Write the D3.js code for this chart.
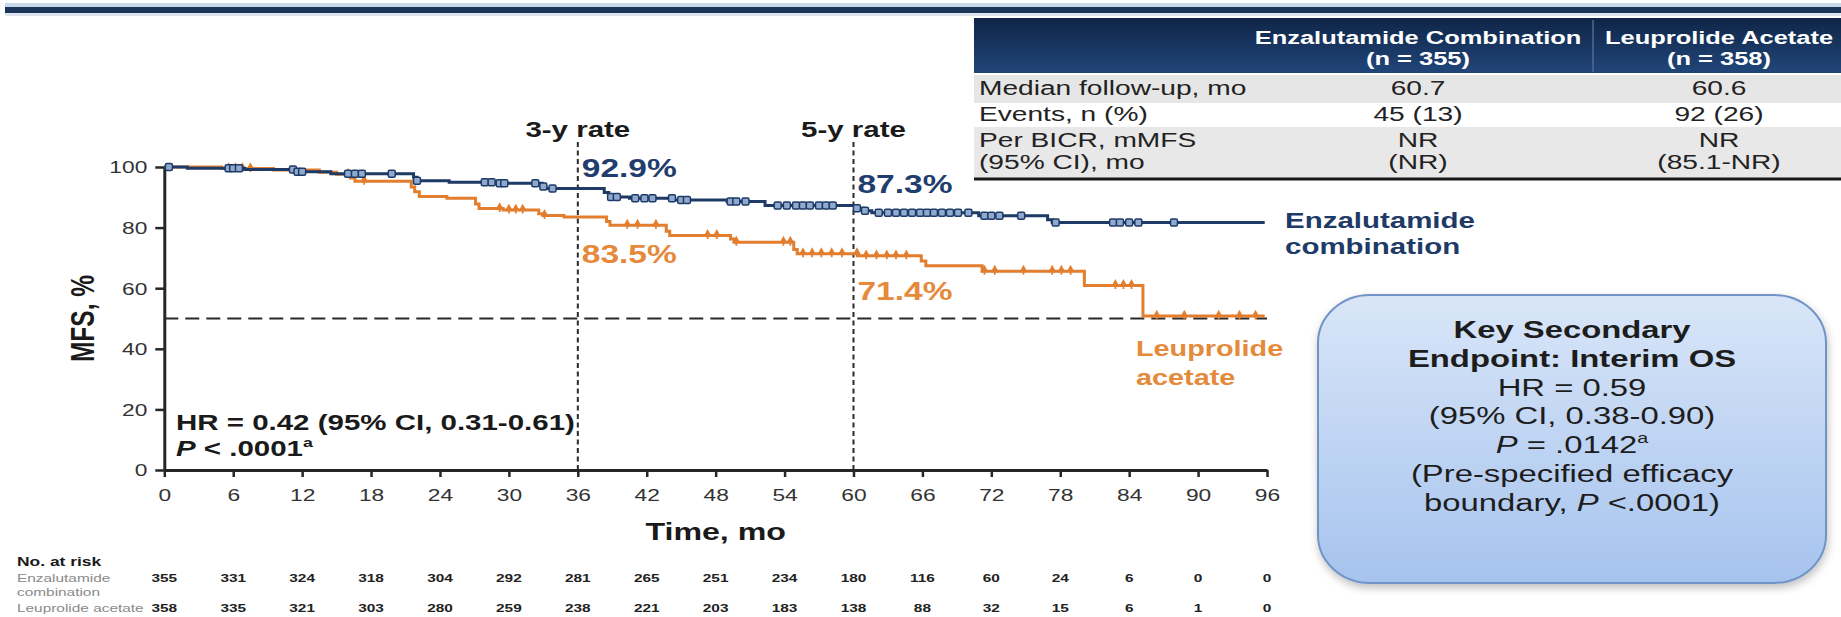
<!DOCTYPE html>
<html>
<head>
<meta charset="utf-8">
<script src="https://cdn.jsdelivr.net/npm/d3@7"></script>
<style>
  html, body { margin: 0; padding: 0; background: #ffffff; }
  svg { display: block; font-family: "Liberation Sans", Arial, Helvetica, sans-serif; }
</style>
</head>
<body>
<svg id="chart" width="1841" height="617"></svg>
<script>
// ---- data -------------------------------------------------------------
const timeTicks = [0, 6, 12, 18, 24, 30, 36, 42, 48, 54, 60, 66, 72, 78, 84, 90, 96];
const mfsTicks = [0, 20, 40, 60, 80, 100];

// Kaplan-Meier steps: [month, MFS % from that month on]
const enzSteps = [
  [0, 100], [2.0, 99.6], [7.0, 99.2], [11.5, 98.4], [14.5, 97.8], [21.7, 96.6],
  [22.0, 95.5], [24.8, 95.0], [28.8, 94.6], [32.9, 93.6], [33.2, 92.9], [38.3, 91.6],
  [38.7, 90.1], [40.5, 89.7], [44.3, 89.1], [49.0, 88.6], [52.3, 87.3], [60.2, 86.4],
  [60.8, 85.6], [61.6, 84.9], [70.9, 83.9], [76.9, 82.6], [77.3, 81.7], [95.8, 81.7]
];
const leuSteps = [
  [0, 100], [5.0, 99.5], [9.5, 99.0], [13.5, 98.3], [15.0, 97.6], [16.2, 96.4],
  [16.6, 95.3], [21.5, 93.4], [21.8, 91.8], [22.2, 90.3], [24.6, 89.7], [27.1, 87.8],
  [27.4, 86.3], [29.5, 85.8], [32.6, 84.6], [33.0, 84.0], [34.8, 83.5], [38.5, 82.0],
  [38.8, 80.8], [43.7, 78.8], [44.0, 77.4], [49.3, 76.2], [49.6, 75.2], [54.8, 72.8],
  [55.1, 71.4], [60.4, 70.7], [65.9, 69.0], [66.3, 67.4], [71.2, 65.6], [80.1, 60.9],
  [85.2, 50.8], [95.8, 50.8]
];

// censoring times (months)
const enzCensored = [0.4, 5.6, 6.0, 6.5, 11.2, 11.6, 12.0, 16.0, 16.6, 17.2, 19.8, 22.0,
  27.9, 28.5, 29.2, 29.6, 32.3, 33.0, 33.8, 38.9, 39.4, 41.0, 41.8, 42.5, 44.2, 45.0,
  45.5, 49.3, 49.8, 50.6, 53.4, 54.2, 55.0, 55.6, 56.2, 57.0, 57.6, 58.2, 60.3, 61.0,
  62.2, 63.0, 63.7, 64.4, 65.1, 65.8, 66.4, 67.0, 67.7, 68.4, 69.1, 70.0, 71.4, 72.0,
  72.7, 74.6, 77.6, 82.6, 83.2, 84.0, 84.8, 87.9];
const leuCensored = [5.6, 6.2, 6.8, 7.5, 16.0, 17.4, 29.2, 30.0, 30.6, 31.2, 33.1, 40.3,
  41.2, 42.8, 47.3, 48.1, 49.8, 53.9, 54.5, 55.6, 56.4, 57.2, 58.1, 59.0, 60.3, 61.1,
  62.0, 62.9, 63.7, 64.6, 71.4, 72.3, 74.8, 77.3, 78.1, 78.9, 82.8, 83.5, 84.2, 86.4,
  88.8, 91.8, 93.6, 95.0];

// landmark rates
const landmarkMonths = [36, 60];
const landmarkTitles = ["3-y rate", "5-y rate"];
const enzLandmark = [92.9, 87.3];
const leuLandmark = [83.5, 71.4];

// number at risk
const atRiskEnz = [355, 331, 324, 318, 304, 292, 281, 265, 251, 234, 180, 116, 60, 24, 6, 0, 0];
const atRiskLeu = [358, 335, 321, 303, 280, 259, 238, 221, 203, 183, 138, 88, 32, 15, 6, 1, 0];

// summary table
const tableHeads = [["Enzalutamide Combination", "(n = 355)"], ["Leuprolide Acetate", "(n = 358)"]];
const tableRowLabels = [["Median follow-up, mo"], ["Events, n (%)"], ["Per BICR, mMFS", "(95% CI), mo"]];
const tableEnz = [["60.7"], ["45 (13)"], ["NR", "(NR)"]];
const tableLeu = [["60.6"], ["92 (26)"], ["NR", "(85.1-NR)"]];

// ---- drawing ------------------------------------------------------------
const SX = 1.34; // horizontal text stretch of the slide
const NAVY = "#1e3a66", ORANGE = "#e27e2e", INK = "#1d1d1d";

const svg = d3.select("#chart");
const defs = svg.append("defs");

const hdrGrad = defs.append("linearGradient").attr("id", "hdrGrad").attr("x1", 0).attr("y1", 0).attr("x2", 0).attr("y2", 1);
hdrGrad.append("stop").attr("offset", "0%").attr("stop-color", "#0f2547");
hdrGrad.append("stop").attr("offset", "100%").attr("stop-color", "#21467a");

const boxGrad = defs.append("linearGradient").attr("id", "boxGrad").attr("x1", 0).attr("y1", 0).attr("x2", 0).attr("y2", 1);
boxGrad.append("stop").attr("offset", "0%").attr("stop-color", "#d9e6f8");
boxGrad.append("stop").attr("offset", "100%").attr("stop-color", "#a6c3ee");

const shadow = defs.append("filter").attr("id", "shadow").attr("x", "-10%").attr("y", "-10%").attr("width", "130%").attr("height", "130%");
shadow.append("feDropShadow").attr("dx", 1).attr("dy", 4).attr("stdDeviation", 4).attr("flood-color", "#000").attr("flood-opacity", 0.25);

function label(g, x, y, parts, o) {
  const t = g.append("text")
    .attr("transform", `translate(${x},${y}) scale(${SX},1)` + (o.rotate ? ` rotate(${o.rotate})` : ""))
    .attr("text-anchor", o.anchor || "start")
    .attr("font-size", o.size)
    .attr("font-weight", o.weight || "normal")
    .attr("fill", o.color || INK);
  (Array.isArray(parts) ? parts : [parts]).forEach(p => {
    if (typeof p === "string") { t.append("tspan").text(p); return; }
    const s = t.append("tspan").text(p.text);
    if (p.italic) s.attr("font-style", "italic");
    if (p.sup) s.attr("font-size", o.size * 0.6).attr("dy", -o.size * 0.42);
  });
  return t;
}

// top rule
svg.append("rect").attr("x", 5).attr("y", 3).attr("width", 1836).attr("height", 4).attr("fill", "#c7d8ea");
svg.append("rect").attr("x", 5).attr("y", 7).attr("width", 1836).attr("height", 6).attr("fill", "#1d3558");
svg.append("rect").attr("x", 5).attr("y", 13).attr("width", 1836).attr("height", 3).attr("fill", "#dde4ec");

// summary table
const tbl = svg.append("g");
const tX0 = 974, tX1 = 1841;
const colCenters = [1418, 1719];
tbl.append("rect").attr("x", tX0).attr("y", 18).attr("width", tX1 - tX0).attr("height", 55).attr("fill", "url(#hdrGrad)");
tbl.append("line").attr("x1", 1593).attr("x2", 1593).attr("y1", 20).attr("y2", 72).attr("stroke", "#4d6b94").attr("stroke-width", 1.5);
tableHeads.forEach((h, i) => {
  label(tbl, colCenters[i], 44, h[0], { size: 19, weight: "bold", color: "#ffffff", anchor: "middle" });
  label(tbl, colCenters[i], 65, h[1], { size: 19, weight: "bold", color: "#ffffff", anchor: "middle" });
});
const rowBands = [[75, 28, "#e6e6e6"], [103, 24, "#ffffff"], [127, 51, "#e8e8e8"]];
const rowBase = [[95], [121], [147, 169]];
rowBands.forEach(([y0, h, c]) => tbl.append("rect").attr("x", tX0).attr("y", y0).attr("width", tX1 - tX0).attr("height", h).attr("fill", c));
tableRowLabels.forEach((lines, r) => {
  lines.forEach((s, k) => label(tbl, 979, rowBase[r][k], s, { size: 21, color: "#222" }));
  tableEnz[r].forEach((s, k) => label(tbl, colCenters[0], rowBase[r][k], s, { size: 21, color: "#222", anchor: "middle" }));
  tableLeu[r].forEach((s, k) => label(tbl, colCenters[1], rowBase[r][k], s, { size: 21, color: "#222", anchor: "middle" }));
});
tbl.append("line").attr("x1", tX0).attr("x2", tX1).attr("y1", 179).attr("y2", 179).attr("stroke", "#1a1a1a").attr("stroke-width", 3);

// scales
const x = d3.scaleLinear().domain([0, 96]).range([164.3, 1267]);
const y = d3.scaleLinear().domain([0, 100]).range([470, 167]);

const plot = svg.append("g");

// reference lines
plot.append("line").attr("x1", x(0)).attr("x2", x(96)).attr("y1", y(50)).attr("y2", y(50))
  .attr("stroke", "#2a2a2a").attr("stroke-width", 2).attr("stroke-dasharray", "14,7");
landmarkMonths.forEach((m, i) => {
  plot.append("line").attr("x1", x(m)).attr("x2", x(m)).attr("y1", 142).attr("y2", y(0))
    .attr("stroke", "#2a2a2a").attr("stroke-width", 2).attr("stroke-dasharray", "5,3.5");
  label(plot, x(m), 137, landmarkTitles[i], { size: 22, weight: "bold", color: "#1a1a1a", anchor: "middle" });
});

// axes
const xAxis = plot.append("g").attr("transform", `translate(0,${y(0)})`)
  .call(d3.axisBottom(x).tickValues(timeTicks).tickSize(7).tickSizeOuter(0));
const yAxis = plot.append("g").attr("transform", `translate(${x(0)},0)`)
  .call(d3.axisLeft(y).tickValues(mfsTicks).tickSize(9).tickSizeOuter(0));
[xAxis, yAxis].forEach(a => {
  a.select(".domain").attr("stroke", "#262626").attr("stroke-width", 3);
  a.selectAll(".tick line").attr("stroke", "#262626").attr("stroke-width", 2.5);
  a.selectAll(".tick text").attr("font-family", null).attr("font-size", 17).attr("fill", "#333");
});
xAxis.selectAll(".tick text").attr("y", 0).attr("dy", 0).attr("transform", `translate(0,31) scale(${SX},1)`);
yAxis.selectAll(".tick text").attr("x", 0).attr("dy", "0.35em").attr("transform", `translate(-17,0) scale(${SX},1)`);

label(plot, x(48), 540, "Time, mo", { size: 24, weight: "bold", color: "#1a1a1a", anchor: "middle" });
label(plot, 94, y(50), "MFS, %", { size: 24.5, weight: "bold", color: "#1a1a1a", anchor: "middle", rotate: -90 });

// survival curves
function survivalAt(steps, t) {
  let v = steps[0][1];
  for (const [tm, s] of steps) { if (tm <= t) v = s; else break; }
  return v;
}
const stepLine = d3.line().x(d => x(d[0])).y(d => y(d[1])).curve(d3.curveStepAfter);

plot.append("path").datum(leuSteps).attr("d", stepLine)
  .attr("fill", "none").attr("stroke", ORANGE).attr("stroke-width", 3);
plot.append("g").selectAll("path").data(leuCensored).join("path")
  .attr("d", t => { const cx = x(t), cy = y(survivalAt(leuSteps, t)); return `M${cx},${cy - 4.5}L${cx},${cy + 3.5}M${cx - 3},${cy + 1}L${cx},${cy - 4.5}L${cx + 3},${cy + 1}`; })
  .attr("fill", "none").attr("stroke", ORANGE).attr("stroke-width", 1.8);

plot.append("path").datum(enzSteps).attr("d", stepLine)
  .attr("fill", "none").attr("stroke", NAVY).attr("stroke-width", 3);
plot.append("g").selectAll("rect").data(enzCensored).join("rect")
  .attr("x", t => x(t) - 3.5).attr("y", t => y(survivalAt(enzSteps, t)) - 3.5)
  .attr("width", 7).attr("height", 7).attr("rx", 1.5)
  .attr("fill", "#8fa9cf").attr("stroke", NAVY).attr("stroke-width", 1.5);

// landmark values
landmarkMonths.forEach((m, i) => {
  label(plot, x(m) + 4, y(enzLandmark[i]) - 12, enzLandmark[i].toFixed(1) + "%", { size: 25, weight: "bold", color: "#1f3d6d" });
  label(plot, x(m) + 4, y(leuLandmark[i]) + 46, leuLandmark[i].toFixed(1) + "%", { size: 25, weight: "bold", color: "#e5893b" });
});

// curve labels
label(plot, 1285, 228, "Enzalutamide", { size: 22, weight: "bold", color: NAVY });
label(plot, 1285, 254, "combination", { size: 22, weight: "bold", color: NAVY });
label(plot, 1136, 356, "Leuprolide", { size: 21.5, weight: "bold", color: "#e5893b" });
label(plot, 1136, 385, "acetate", { size: 21.5, weight: "bold", color: "#e5893b" });

// hazard ratio
label(plot, 176, 430, "HR = 0.42 (95% CI, 0.31-0.61)", { size: 22, weight: "bold", color: "#1a1a1a" });
label(plot, 176, 456, [{ text: "P", italic: true }, " < .0001", { text: "a", sup: true }], { size: 22, weight: "bold", color: "#1a1a1a" });

// number at risk
const risk = svg.append("g");
label(risk, 17, 566, "No. at risk", { size: 13, weight: "bold", color: "#1a1a1a" });
label(risk, 17, 582, "Enzalutamide", { size: 11.5, color: "#8a8a8a" });
label(risk, 17, 596, "combination", { size: 11.5, color: "#8a8a8a" });
label(risk, 17, 612, "Leuprolide acetate", { size: 11.5, color: "#8a8a8a" });
timeTicks.forEach((t, i) => {
  label(risk, x(t), 582, String(atRiskEnz[i]), { size: 11.5, weight: "bold", color: "#222", anchor: "middle" });
  label(risk, x(t), 612, String(atRiskLeu[i]), { size: 11.5, weight: "bold", color: "#222", anchor: "middle" });
});

// key secondary endpoint box
const box = svg.append("g");
box.append("rect").attr("x", 1318).attr("y", 295).attr("width", 508).attr("height", 288)
  .attr("rx", 52).attr("ry", 48).attr("fill", "url(#boxGrad)").attr("stroke", "#6f94c6").attr("stroke-width", 2)
  .attr("filter", "url(#shadow)");
const bc = 1572;
const boxLines = [
  [["Key Secondary"], "bold"],
  [["Endpoint: Interim OS"], "bold"],
  [["HR = 0.59"], "normal"],
  [["(95% CI, 0.38-0.90)"], "normal"],
  [[{ text: "P", italic: true }, " = .0142", { text: "a", sup: true }], "normal"],
  [["(Pre-specified efficacy"], "normal"],
  [["boundary, ", { text: "P", italic: true }, " <.0001)"], "normal"]
];
const boxBase = [338, 367, 396, 424, 453, 482, 511];
boxLines.forEach(([parts, w], i) => label(box, bc, boxBase[i], parts, { size: 24.5, weight: w, anchor: "middle" }));
</script>
</body>
</html>
